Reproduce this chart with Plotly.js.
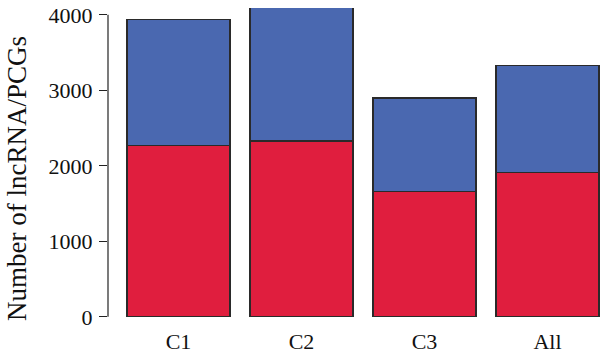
<!DOCTYPE html>
<html><head><meta charset="utf-8">
<script src="https://cdn.plot.ly/plotly-3.0.1.min.js"></script>
<style>html,body{margin:0;padding:0;background:#fff}#chart{width:600px;height:357px}</style>
</head><body><div id="chart"></div>
<script>
const categories = ["C1", "C2", "C3", "All"];
const lowerValues = [2270, 2330, 1665, 1915];   // red segment
const upperValues = [1665, 2170, 1232, 1410];   // blue segment (stacked)
const yTicks = [0, 1000, 2000, 3000, 4000];
const yTitle = "Number of lncRNA/PCGs";

const red = "#E01E3E", blue = "#4A68B0";
const font = "Liberation Serif, Times New Roman, serif";
const data = [
  {type: "bar", x: categories, y: lowerValues, marker: {color: red, line: {color: "#2a2a2a", width: 1.2}}, hoverinfo: "skip"},
  {type: "bar", x: categories, y: upperValues, marker: {color: blue, line: {color: "#2a2a2a", width: 1.2}}, hoverinfo: "skip"}
];
const layout = {
  width: 600, height: 357,
  margin: {l: 108, r: 0, t: 8, b: 39},
  barmode: "stack", bargap: 0.163,
  showlegend: false,
  paper_bgcolor: "#fff", plot_bgcolor: "#fff",
  font: {family: font, size: 22, color: "#111"},
  xaxis: {range: [-0.573, 3.427], showline: false, ticks: "", showgrid: false, zeroline: false,
          tickfont: {family: font, size: 22, color: "#111"}, ticklabelstandoff: 8},
  yaxis: {range: [-15, 4090], tickvals: yTicks, ticktext: yTicks.map(String), ticks: "outside", ticklen: 8,
          tickcolor: "#222", tickwidth: 1.2, showline: false, showgrid: false, zeroline: false,
          tickfont: {family: font, size: 22, color: "#111"}, ticklabelstandoff: 2,
          automargin: false},
  annotations: [{text: yTitle, xref: "paper", yref: "paper", x: (17 - 108) / 492, y: (318 - 179) / 310,
                 xanchor: "center", yanchor: "middle", textangle: -90, showarrow: false,
                 font: {family: font, size: 27, color: "#111"}}],
  shapes: [{type: "line", xref: "paper", yref: "y", x0: 0, x1: 0, y0: 0, y1: 4000, line: {color: "#222", width: 1.2}}]
};
Plotly.newPlot("chart", data, layout, {staticPlot: true, displayModeBar: false});
</script></body></html>
